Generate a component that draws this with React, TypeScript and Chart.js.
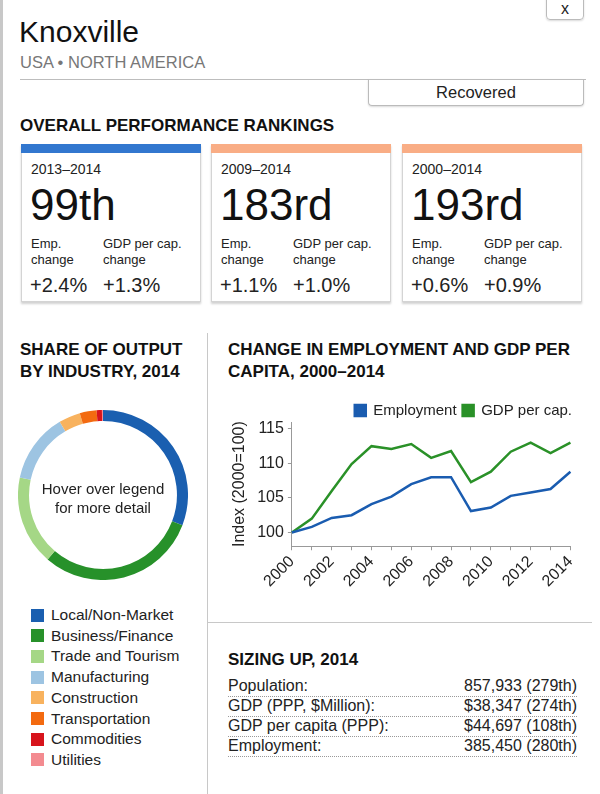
import React, { useEffect, useRef } from "react";
import { Chart, registerables } from "chart.js";

Chart.register(...registerables);

const FONT = "'Liberation Sans', Arial, Helvetica, sans-serif";

// ---- Data ----
const years = ["2000", "2001", "2002", "2003", "2004", "2005", "2006", "2007", "2008", "2009", "2010", "2011", "2012", "2013", "2014"];
const employment = [100, 100.8, 102.1, 102.5, 104.1, 105.2, 107.0, 108.0, 108.0, 103.1, 103.6, 105.3, 105.8, 106.3, 108.8];
const gdpPerCap = [100, 102.0, 106.0, 109.9, 112.5, 112.1, 112.8, 110.8, 111.8, 107.3, 108.8, 111.7, 113.0, 111.5, 113.0];
const yTicks = [100, 105, 110, 115];

const industries = ["Local/Non-Market", "Business/Finance", "Trade and Tourism", "Manufacturing", "Construction", "Transportation", "Commodities", "Utilities"];
const industryShares = [30.8, 30.5, 17.0, 13.2, 4.1, 3.2, 1.0, 0.2];
const industryColors = ["#1a5fb0", "#27912a", "#a5d786", "#9dc4e2", "#f8b25e", "#f36a10", "#d7141c", "#f38b90"];

const rankPeriods = ["2013–2014", "2009–2014", "2000–2014"];
const rankValues = ["99th", "183rd", "193rd"];
const rankEmpChange = ["+2.4%", "+1.1%", "+0.6%"];
const rankGdpChange = ["+1.3%", "+1.0%", "+0.9%"];
const rankBarColors = ["#3277cf", "#f9ad85", "#f9ad85"];

const sizingLabels = ["Population:", "GDP (PPP, $Million):", "GDP per capita (PPP):", "Employment:"];
const sizingValues = ["857,933 (279th)", "$38,347 (274th)", "$44,697 (108th)", "385,450 (280th)"];

const EMP_COLOR = "#1a5cb0";
const GDP_COLOR = "#2a9128";

function abs(left: number, top: number, extra: any = {}): any {
  return { position: "absolute", left, top, ...extra };
}

// shrinks the legend box slightly so that it sits closer to the plot
const legendTighten = {
  id: "legendTighten",
  beforeInit(chart: any) {
    const legend = chart.legend;
    if (!legend) return;
    const origFit = legend.fit;
    legend.fit = function (this: any) {
      origFit.call(this);
      this.height -= 6;
    };
  },
};

function LineChart() {
  const ref = useRef<HTMLCanvasElement>(null);
  useEffect(() => {
    if (!ref.current) return;
    const chart = new Chart(ref.current, {
      type: "line",
      data: {
        labels: years,
        datasets: [
          {
            label: "Employment",
            data: employment,
            borderColor: EMP_COLOR,
            backgroundColor: EMP_COLOR,
            borderWidth: 2.5,
            pointRadius: 0,
            tension: 0,
          },
          {
            label: "GDP per cap.",
            data: gdpPerCap,
            borderColor: GDP_COLOR,
            backgroundColor: GDP_COLOR,
            borderWidth: 2.5,
            pointRadius: 0,
            tension: 0,
          },
        ],
      },
      plugins: [legendTighten],
      options: {
        responsive: false,
        animation: false,
        layout: { padding: { left: 8, right: 8, top: 6, bottom: 0 } },
        plugins: {
          tooltip: { enabled: false },
          legend: {
            display: true,
            position: "top",
            align: "end",
            labels: {
              boxWidth: 11,
              boxHeight: 11,
              padding: 6,
              color: "#222",
              font: { family: FONT, size: 15 },
            },
          },
        },
        scales: {
          x: {
            type: "category",
            offset: false,
            grid: { display: true, drawOnChartArea: false, drawTicks: true, tickLength: 4, color: "#999" },
            border: { display: true, color: "#999", width: 1 },
            ticks: {
              autoSkip: false,
              maxRotation: 45,
              minRotation: 45,
              color: "#222",
              padding: 2,
              font: { family: FONT, size: 16 },
              callback: function (this: any, value: any, index: number) {
                return index % 2 === 0 ? years[index] : "";
              },
            },
          },
          y: {
            min: 98,
            max: 116,
            afterBuildTicks: (axis: any) => {
              axis.ticks = yTicks.map((v) => ({ value: v }));
            },
            grid: { display: true, drawOnChartArea: false, drawTicks: true, tickLength: 4, color: "#999" },
            border: { display: true, color: "#999", width: 1 },
            title: {
              display: true,
              text: "Index (2000=100)",
              color: "#222",
              font: { family: FONT, size: 16 },
              padding: { top: 0, bottom: 4 },
            },
            ticks: {
              color: "#222",
              padding: 4,
              font: { family: FONT, size: 16 },
            },
          },
        },
      },
    } as any);
    return () => chart.destroy();
  }, []);
  return <canvas ref={ref} width={364} height={202} style={abs(222, 391)} />;
}

function DonutChart() {
  const ref = useRef<HTMLCanvasElement>(null);
  useEffect(() => {
    if (!ref.current) return;
    const chart = new Chart(ref.current, {
      type: "doughnut",
      data: {
        labels: industries,
        datasets: [
          {
            data: industryShares,
            backgroundColor: industryColors,
            borderWidth: 0,
          },
        ],
      },
      options: {
        responsive: false,
        animation: false,
        cutout: "87%",
        plugins: { legend: { display: false }, tooltip: { enabled: false } },
      },
    } as any);
    return () => chart.destroy();
  }, []);
  return <canvas ref={ref} width={170} height={170} style={abs(18, 410)} />;
}

function RankCard({ i }: { i: number }) {
  const lefts = [21, 211, 402];
  const left = lefts[i];
  return (
    <div
      style={abs(left, 144, {
        width: 180,
        height: 158,
        boxSizing: "border-box",
        border: "1px solid #d4d4d4",
        boxShadow: "0 2px 2px rgba(0,0,0,0.18)",
        background: "#fff",
      })}
    >
      <div style={abs(-1, -1, { width: 180, height: 9, background: rankBarColors[i] })} />
      <div style={abs(9, 15, { fontSize: 14, lineHeight: "18px", color: "#222", whiteSpace: "nowrap" })}>{rankPeriods[i]}</div>
      <div style={abs(8, 35, { fontSize: 44, lineHeight: "50px", color: "#111", whiteSpace: "nowrap" })}>{rankValues[i]}</div>
      <div style={abs(9, 91, { fontSize: 13, lineHeight: "16px", color: "#222" })}>
        Emp.
        <br />
        change
      </div>
      <div style={abs(81, 91, { fontSize: 13, lineHeight: "16px", color: "#222", whiteSpace: "nowrap" })}>
        GDP per cap.
        <br />
        change
      </div>
      <div style={abs(8, 128, { fontSize: 20, lineHeight: "24px", color: "#222", whiteSpace: "nowrap" })}>{rankEmpChange[i]}</div>
      <div style={abs(81, 128, { fontSize: 20, lineHeight: "24px", color: "#222", whiteSpace: "nowrap" })}>{rankGdpChange[i]}</div>
    </div>
  );
}

export default function App() {
  const headStyle = { fontWeight: "bold", fontSize: 17, color: "#111", lineHeight: "22px", whiteSpace: "nowrap" };
  return (
    <div
      style={{
        position: "absolute",
        left: 0,
        top: 0,
        width: 600,
        height: 794,
        overflow: "hidden",
        background: "#fff",
        fontFamily: FONT,
        color: "#222",
      }}
    >
      {/* left border */}
      <div style={abs(0, 0, { width: 3, height: 794, background: "#c8c8c8" })} />

      {/* close button */}
      <div
        style={abs(546, -3, {
          width: 38,
          height: 23,
          boxSizing: "border-box",
          border: "1px solid #bbb",
          borderRadius: "0 0 4px 4px",
          textAlign: "center",
          fontSize: 16,
          lineHeight: "22px",
          color: "#222",
          boxShadow: "0 1px 2px rgba(0,0,0,0.15)",
        })}
      >
        x
      </div>

      {/* Header */}
      <div style={abs(19, 14, { fontSize: 30, lineHeight: "36px", color: "#111" })}>Knoxville</div>
      <div style={abs(20, 52, { fontSize: 16.5, lineHeight: "20px", color: "#777" })}>USA • NORTH AMERICA</div>
      <div style={abs(20, 79, { width: 566, height: 1, background: "#bdbdbd" })} />
      <div
        style={abs(368, 79, {
          width: 216,
          height: 27,
          boxSizing: "border-box",
          border: "1px solid #bbb",
          borderTop: "none",
          borderRadius: "0 0 4px 4px",
          textAlign: "center",
          fontSize: 16.5,
          lineHeight: "26px",
          color: "#222",
          boxShadow: "0 1px 2px rgba(0,0,0,0.15)",
        })}
      >
        Recovered
      </div>

      <div style={abs(20, 115, headStyle)}>OVERALL PERFORMANCE RANKINGS</div>

      <RankCard i={0} />
      <RankCard i={1} />
      <RankCard i={2} />

      {/* dividers */}
      <div style={abs(207, 333, { width: 1, height: 461, background: "#c8c8c8" })} />
      <div style={abs(207, 622, { width: 385, height: 1, background: "#c8c8c8" })} />

      {/* Share of output */}
      <div style={abs(20, 339, headStyle)}>
        SHARE OF OUTPUT
        <br />
        BY INDUSTRY, 2014
      </div>
      <DonutChart />
      <div style={abs(18, 479, { width: 170, textAlign: "center", fontSize: 15, lineHeight: "19px", color: "#222" })}>
        Hover over legend
        <br />
        for more detail
      </div>
      {industries.map((name, i) => (
        <div key={name} style={abs(31, 605 + i * 20.7, { height: 20, whiteSpace: "nowrap" })}>
          <div style={abs(0, 3.5, { width: 13, height: 13, background: industryColors[i] })} />
          <div style={abs(20, 0, { fontSize: 15.5, lineHeight: "20px", color: "#222" })}>{name}</div>
        </div>
      ))}

      {/* Change in employment */}
      <div style={abs(228, 339, { ...headStyle })}>
        CHANGE IN EMPLOYMENT AND GDP PER
        <br />
        CAPITA, 2000–2014
      </div>
      <LineChart />

      {/* Sizing up */}
      <div style={abs(228, 649, headStyle)}>SIZING UP, 2014</div>
      {sizingLabels.map((label, i) => (
        <div
          key={label}
          style={abs(228, 677 + i * 20, {
            width: 349,
            height: 20,
            boxSizing: "border-box",
            borderBottom: "1px dotted #999",
            fontSize: 16,
            lineHeight: "18px",
            color: "#222",
            whiteSpace: "nowrap",
          })}
        >
          <span style={{ position: "absolute", left: 0 }}>{label}</span>
          <span style={{ position: "absolute", right: 0 }}>{sizingValues[i]}</span>
        </div>
      ))}
    </div>
  );
}
